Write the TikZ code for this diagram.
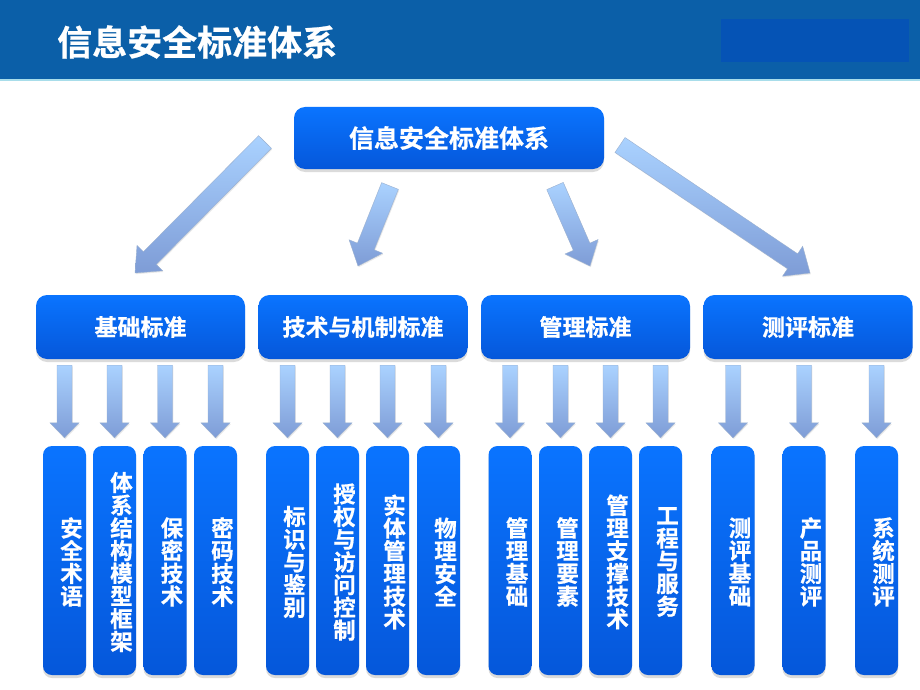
\documentclass[tikz,border=0pt]{standalone}
\usepackage{fontspec}
\setmainfont{Noto Sans CJK SC}[BoldFont={Noto Sans CJK SC Bold}, BoldFeatures={FakeBold=0.7}]
\usetikzlibrary{calc,shadows}
\definecolor{hdr}{HTML}{0B5FA8}
\definecolor{hdrbox}{HTML}{0553B5}
\definecolor{hdrline}{HTML}{A8DDEA}
\definecolor{boxtop}{HTML}{0A74FF}
\definecolor{boxbot}{HTML}{0557DA}
\definecolor{arrtop}{HTML}{AAD2FF}
\definecolor{arrbot}{HTML}{7E9CD6}
\definecolor{arredge}{HTML}{9AB0D0}
\newcommand{\blockarr}[5]{%
  \coordinate (#2-b) at ($(#2)!#5!(#1)$);
  \path[blockarrow] ($(#1)!#3!90:(#2)$) -- ($(#2-b)!#3!90:(#2)$) -- ($(#2-b)!#4!90:(#2)$) -- (#2)
    -- ($(#2-b)!#4!-90:(#2)$) -- ($(#2-b)!#3!-90:(#2)$) -- ($(#1)!#3!-90:(#2)$) -- cycle;
}
\tikzset{
  blockarrow/.style={top color=arrtop, bottom color=arrbot, draw=arredge, line width=0.4pt,
    drop shadow={shadow xshift=0.8pt, shadow yshift=-1.2pt, opacity=0.18}},
  bluebox/.style={top color=boxtop, bottom color=boxbot, text=white, font=\bfseries,
    inner sep=0pt, drop shadow={shadow xshift=0pt, shadow yshift=-3pt, opacity=0.28}},
  topbox/.style={bluebox, rounded corners=11pt, minimum width=310pt, minimum height=62pt,
    font=\fontsize{25}{28}\selectfont\bfseries},
  midbox/.style={bluebox, rounded corners=11pt, minimum width=209pt, minimum height=64pt,
    font=\fontsize{23}{26}\selectfont\bfseries},
  tallbox/.style={bluebox, rounded corners=9pt, minimum width=43pt, minimum height=229pt},
  vtext/.style={text=white, align=center, inner sep=0pt, xshift=7pt, yshift=-1.5pt,
    font=\fontsize{22.5}{22.7}\selectfont\bfseries},
}
\begin{document}
\begin{tikzpicture}[x=1pt,y=-1pt]
\useasboundingbox[fill=white] (0,0) rectangle (920,690);
% header
\fill[hdr] (0,0) rectangle (920,79);
\fill[hdrline] (0,79) rectangle (920,81);
\fill[hdrbox] (721,19) rectangle (909,62);
\node[anchor=west, text=white, inner sep=0pt, font=\fontsize{35}{38}\selectfont\bfseries] (title) at (57,42) {信息安全标准体系};
% root
\node[topbox] (root) at (449,138) {信息安全标准体系};
% second level
\node[midbox] (m1) at (140.5,327) {基础标准};
\node[midbox] (m2) at (363,327) {技术与机制标准};
\node[midbox] (m3) at (585.5,327) {管理标准};
\node[midbox] (m4) at (808,327) {测评标准};
% diagonal arrows
\coordinate (d1t) at (265,142); \coordinate (d1h) at (135,273);
\coordinate (d2t) at (390,186); \coordinate (d2h) at (358,266);
\coordinate (d3t) at (555,186); \coordinate (d3h) at (590,266);
\coordinate (d4t) at (620,145); \coordinate (d4h) at (810,273);
\blockarr{d1t}{d1h}{9pt}{18pt}{21pt}
\blockarr{d2t}{d2h}{9pt}{18pt}{21pt}
\blockarr{d3t}{d3h}{9pt}{18pt}{21pt}
\blockarr{d4t}{d4h}{9pt}{18pt}{21pt}
% leaf boxes
\node[tallbox, label={[vtext]center:安\\全\\术\\语}] (b1) at (64.5,560.5) {};
\node[tallbox, label={[vtext]center:体\\系\\结\\构\\模\\型\\框\\架}] (b2) at (114.5,560.5) {};
\node[tallbox, label={[vtext]center:保\\密\\技\\术}] (b3) at (165,560.5) {};
\node[tallbox, label={[vtext]center:密\\码\\技\\术}] (b4) at (215.5,560.5) {};
\node[tallbox, label={[vtext]center:标\\识\\与\\鉴\\别}] (b5) at (287.5,560.5) {};
\node[tallbox, label={[vtext]center:授\\权\\与\\访\\问\\控\\制}] (b6) at (337.5,560.5) {};
\node[tallbox, label={[vtext]center:实\\体\\管\\理\\技\\术}] (b7) at (387.5,560.5) {};
\node[tallbox, label={[vtext]center:物\\理\\安\\全}] (b8) at (438.5,560.5) {};
\node[tallbox, label={[vtext]center:管\\理\\基\\础}] (b9) at (510,560.5) {};
\node[tallbox, label={[vtext]center:管\\理\\要\\素}] (b10) at (560.5,560.5) {};
\node[tallbox, label={[vtext]center:管\\理\\支\\撑\\技\\术}] (b11) at (610.5,560.5) {};
\node[tallbox, label={[vtext]center:工\\程\\与\\服\\务}] (b12) at (660.5,560.5) {};
\node[tallbox, label={[vtext]center:测\\评\\基\\础}] (b13) at (733,560.5) {};
\node[tallbox, label={[vtext]center:产\\品\\测\\评}] (b14) at (804,560.5) {};
\node[tallbox, label={[vtext]center:系\\统\\测\\评}] (b15) at (876.5,560.5) {};
% vertical arrows
\foreach \i/\g in {1/1,2/1,3/1,4/1,5/2,6/2,7/2,8/2,9/3,10/3,11/3,12/3,13/4,14/4,15/4}{
  \path (b\i.north |- m\g.south) ++(0,6) coordinate (vt\i);
  \path (b\i.north) ++(0,-8) coordinate (vh\i);
  \blockarr{vt\i}{vh\i}{7.5pt}{14.5pt}{15pt}
}
\end{tikzpicture}
\end{document}
